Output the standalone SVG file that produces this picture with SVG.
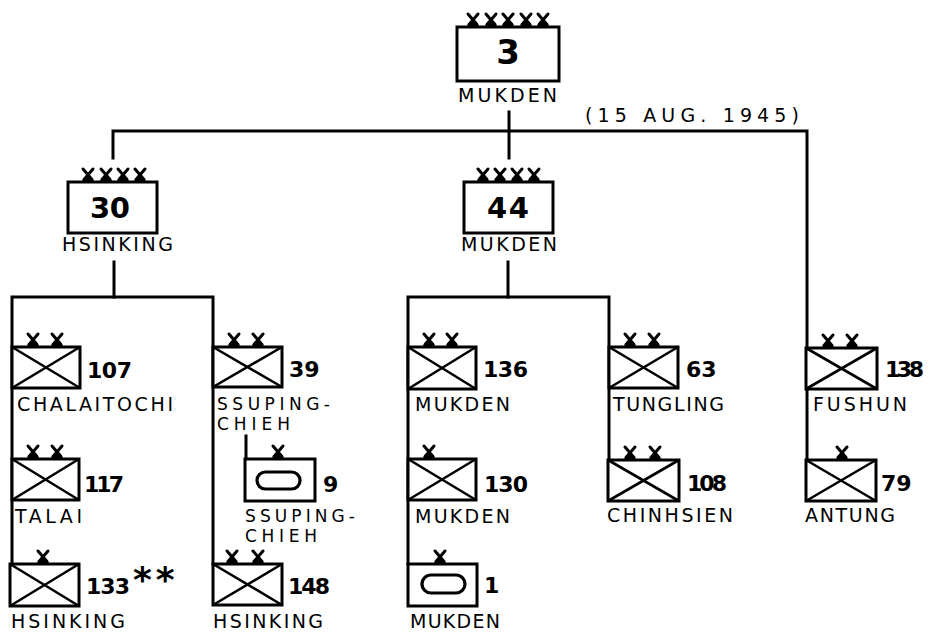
<svg xmlns="http://www.w3.org/2000/svg" xmlns:xlink="http://www.w3.org/1999/xlink" width="930" height="633" viewBox="0 0 930 633">
<style>
.bx{fill:#fff;stroke:#000;stroke-width:3;stroke-linejoin:miter}
.cr{stroke:#000;stroke-width:2.6;fill:none}
.ln{stroke:#000;stroke-width:3;fill:none;stroke-linecap:square}
.pill{fill:none;stroke:#000;stroke-width:3.2}
.lb{font-family:"DejaVu Sans","Liberation Sans",Arial,sans-serif;font-size:19px;fill:#000}
.lb2{font-family:"DejaVu Sans","Liberation Sans",Arial,sans-serif;font-size:17px;fill:#000}
.nm{font-family:"DejaVu Sans","Liberation Sans",Arial,sans-serif;font-size:22px;font-weight:bold;fill:#000}
.big{font-family:"DejaVu Sans","Liberation Sans",Arial,sans-serif;font-size:29px;font-weight:bold;fill:#000}
</style>
<defs>
<g id="xm">
<path d="M-5,-13 L4,-2.5 M5,-13 L-4,-2.5" stroke="#000" stroke-width="3" stroke-linecap="round" fill="none"/>
<path d="M-6,0 Q-5,-5.5 0,-5.5 Q5,-5.5 6,0 Z" fill="#000"/>
</g>
</defs>
<rect width="930" height="633" fill="#fff"/>

<g id="connectors">
<path class="ln" d="M509,112 V158"/>
<path class="ln" d="M113,158 V131 H807 V459"/>
<path class="ln" d="M114,262 V297"/>
<path class="ln" d="M12,564 V297 H213 V564"/>
<path class="ln" d="M508,262 V297"/>
<path class="ln" d="M408,564 V297 H609 V459"/>
<path class="ln" d="M246,436 V459"/>
</g>

<text class="lb" x="585" y="122" textLength="214" lengthAdjust="spacing">(15 AUG. 1945)</text>

<g id="n3">
<rect class="bx" x="457" y="27" width="102" height="54"/>
<use xlink:href="#xm" x="473" y="27"/><use xlink:href="#xm" x="491" y="27"/><use xlink:href="#xm" x="508" y="27"/><use xlink:href="#xm" x="526" y="27"/><use xlink:href="#xm" x="543" y="27"/>
<text class="big" x="508" y="64" text-anchor="middle" style="font-size:34px">3</text>
<text class="lb" x="458" y="102" textLength="99" lengthAdjust="spacing">MUKDEN</text>
</g>

<g id="n30">
<rect class="bx" x="68" y="182" width="89" height="51"/>
<use xlink:href="#xm" x="88" y="182"/><use xlink:href="#xm" x="106" y="182"/><use xlink:href="#xm" x="123" y="182"/><use xlink:href="#xm" x="140" y="182"/>
<text class="big" x="90" y="218" textLength="40" lengthAdjust="spacing">30</text>
<text class="lb" x="62" y="251" textLength="111" lengthAdjust="spacing">HSINKING</text>
</g>

<g id="n44">
<rect class="bx" x="464" y="182" width="89" height="51"/>
<use xlink:href="#xm" x="483" y="182"/><use xlink:href="#xm" x="500" y="182"/><use xlink:href="#xm" x="517" y="182"/><use xlink:href="#xm" x="534" y="182"/>
<text class="big" x="487" y="218" textLength="42" lengthAdjust="spacing">44</text>
<text class="lb" x="461" y="251" textLength="96" lengthAdjust="spacing">MUKDEN</text>
</g>

<g id="n107">
<rect class="bx" x="12" y="347" width="68" height="41"/>
<path class="cr" d="M12,347 L80,388 M80,347 L12,388"/>
<use xlink:href="#xm" x="33" y="347"/><use xlink:href="#xm" x="57" y="347"/>
<text class="nm" x="87" y="378" textLength="45" lengthAdjust="spacing">107</text>
<text class="lb" x="17" y="411" textLength="156" lengthAdjust="spacing">CHALAITOCHI</text>
</g>

<g id="n117">
<rect class="bx" x="12" y="459" width="67" height="41"/>
<path class="cr" d="M12,459 L79,500 M79,459 L12,500"/>
<use xlink:href="#xm" x="33" y="459"/><use xlink:href="#xm" x="57" y="459"/>
<text class="nm" x="84" y="492" textLength="40" lengthAdjust="spacing">117</text>
<text class="lb" x="15" y="523" textLength="67" lengthAdjust="spacing">TALAI</text>
</g>

<g id="n133">
<rect class="bx" x="10" y="564" width="69" height="42"/>
<path class="cr" d="M10,564 L79,606 M79,564 L10,606"/>
<use xlink:href="#xm" x="43" y="564"/>
<text class="nm" x="86" y="594" textLength="44" lengthAdjust="spacing">133</text>
<text class="nm" x="133" y="592" style="font-size:36px;letter-spacing:4px">**</text>
<text class="lb" x="11" y="628" textLength="114" lengthAdjust="spacing">HSINKING</text>
</g>

<g id="n39">
<rect class="bx" x="213" y="347" width="69" height="40"/>
<path class="cr" d="M213,347 L282,387 M282,347 L213,387"/>
<use xlink:href="#xm" x="234" y="347"/><use xlink:href="#xm" x="258" y="347"/>
<text class="nm" x="289" y="377">39</text>
<text class="lb2"><tspan x="217" y="410" textLength="113" lengthAdjust="spacing">SSUPING-</tspan><tspan x="217" y="430" textLength="73" lengthAdjust="spacing">CHIEH</tspan></text>
</g>

<g id="n9">
<rect class="bx" x="245" y="459" width="70" height="42"/>
<rect class="pill" x="257" y="472" width="43" height="17" rx="8.5" ry="8.5"/>
<use xlink:href="#xm" x="278" y="459"/>
<text class="nm" x="323" y="492">9</text>
<text class="lb2"><tspan x="245" y="522" textLength="110" lengthAdjust="spacing">SSUPING-</tspan><tspan x="245" y="542" textLength="72" lengthAdjust="spacing">CHIEH</tspan></text>
</g>

<g id="n148">
<rect class="bx" x="213" y="564" width="69" height="41"/>
<path class="cr" d="M213,564 L282,605 M282,564 L213,605"/>
<use xlink:href="#xm" x="232" y="564"/><use xlink:href="#xm" x="258" y="564"/>
<text class="nm" x="288" y="594" textLength="42" lengthAdjust="spacing">148</text>
<text class="lb" x="213" y="628" textLength="110" lengthAdjust="spacing">HSINKING</text>
</g>

<g id="n136">
<rect class="bx" x="408" y="347" width="68" height="42"/>
<path class="cr" d="M408,347 L476,389 M476,347 L408,389"/>
<use xlink:href="#xm" x="429" y="347"/><use xlink:href="#xm" x="452" y="347"/>
<text class="nm" x="483" y="377" textLength="45" lengthAdjust="spacing">136</text>
<text class="lb" x="415" y="411" textLength="95" lengthAdjust="spacing">MUKDEN</text>
</g>

<g id="n130">
<rect class="bx" x="408" y="459" width="68" height="41"/>
<path class="cr" d="M408,459 L476,500 M476,459 L408,500"/>
<use xlink:href="#xm" x="429" y="459"/>
<text class="nm" x="484" y="492" textLength="44" lengthAdjust="spacing">130</text>
<text class="lb" x="415" y="523" textLength="95" lengthAdjust="spacing">MUKDEN</text>
</g>

<g id="n1">
<rect class="bx" x="408" y="564" width="69" height="42"/>
<rect class="pill" x="422" y="575" width="43" height="18" rx="9" ry="9"/>
<use xlink:href="#xm" x="440" y="564"/>
<text class="nm" x="484" y="593">1</text>
<text class="lb" x="410" y="628" textLength="90" lengthAdjust="spacing">MUKDEN</text>
</g>

<g id="n63">
<rect class="bx" x="609" y="347" width="69" height="41"/>
<path class="cr" d="M609,347 L678,388 M678,347 L609,388"/>
<use xlink:href="#xm" x="630" y="347"/><use xlink:href="#xm" x="654" y="347"/>
<text class="nm" x="686" y="377">63</text>
<text class="lb" x="613" y="411" textLength="111" lengthAdjust="spacing">TUNGLING</text>
</g>

<g id="n108">
<rect class="bx" x="608" y="460" width="71" height="41"/>
<path class="cr" d="M608,460 L679,501 M679,460 L608,501"/>
<use xlink:href="#xm" x="630" y="460"/><use xlink:href="#xm" x="655" y="460"/>
<text class="nm" x="687" y="491" textLength="40" lengthAdjust="spacing">108</text>
<text class="lb" x="607" y="522" textLength="126" lengthAdjust="spacing">CHINHSIEN</text>
</g>

<g id="n138">
<rect class="bx" x="806" y="348" width="71" height="41"/>
<path class="cr" d="M806,348 L877,389 M877,348 L806,389"/>
<use xlink:href="#xm" x="828" y="348"/><use xlink:href="#xm" x="852" y="348"/>
<text class="nm" x="885" y="377" textLength="39" lengthAdjust="spacing">138</text>
<text class="lb" x="813" y="411" textLength="94" lengthAdjust="spacing">FUSHUN</text>
</g>

<g id="n79">
<rect class="bx" x="806" y="460" width="70" height="41"/>
<path class="cr" d="M806,460 L876,501 M876,460 L806,501"/>
<use xlink:href="#xm" x="842" y="460"/>
<text class="nm" x="881" y="491">79</text>
<text class="lb" x="805" y="522" textLength="90" lengthAdjust="spacing">ANTUNG</text>
</g>
</svg>
